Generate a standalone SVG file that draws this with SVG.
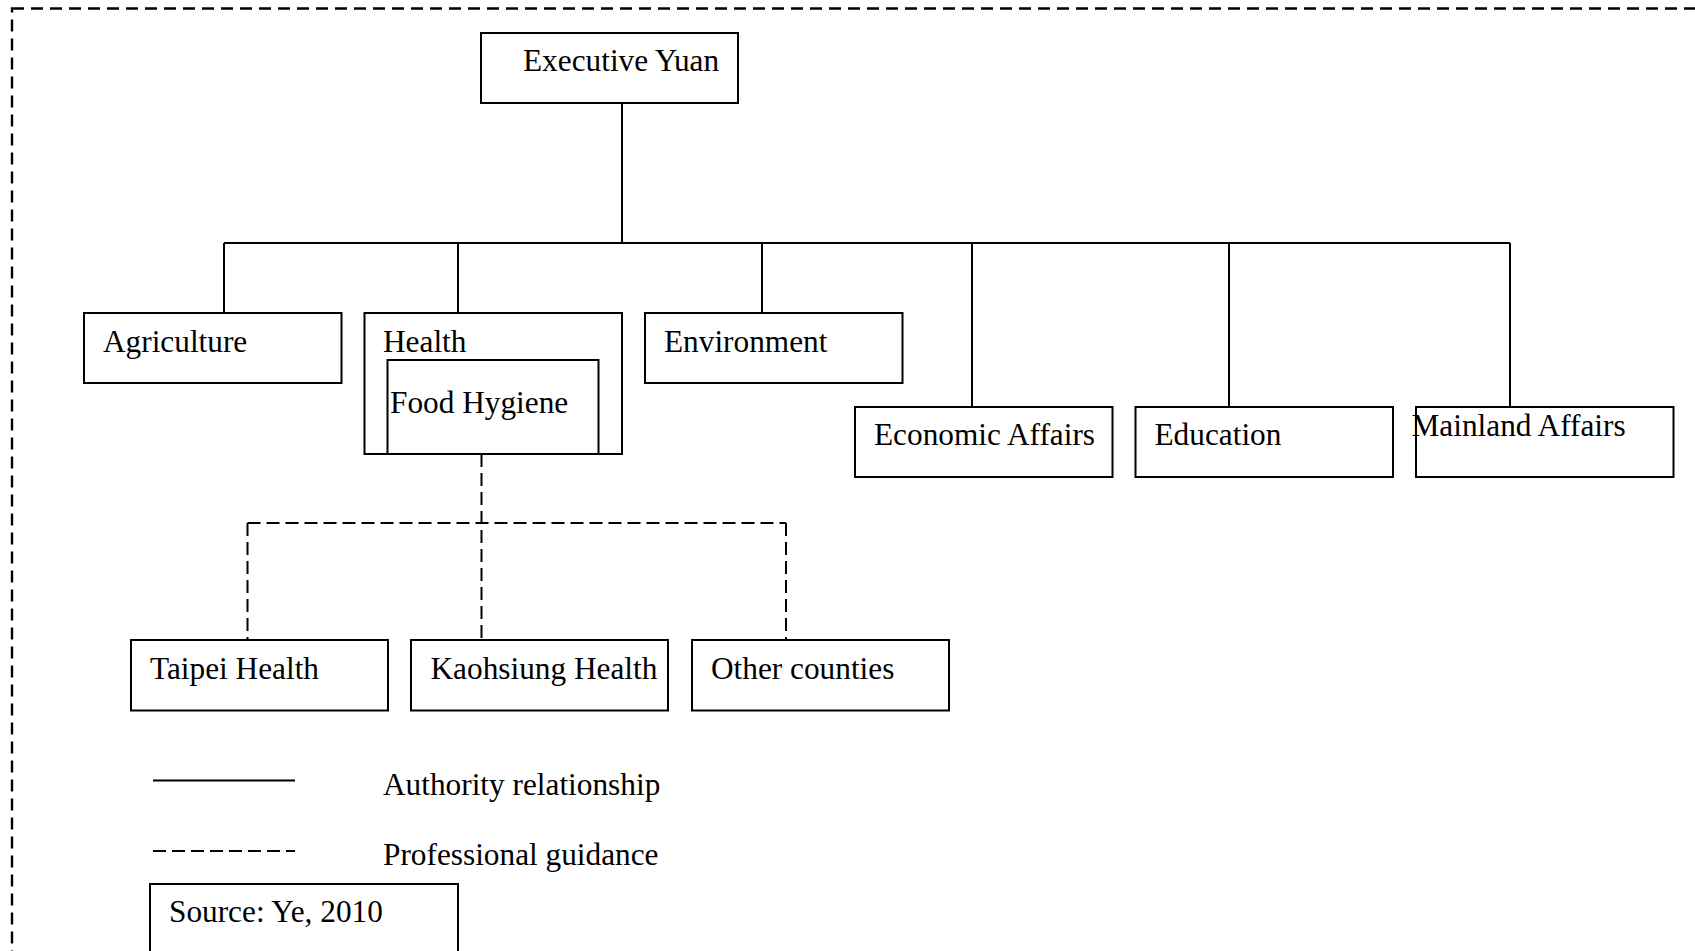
<svg xmlns="http://www.w3.org/2000/svg" width="1695" height="951" viewBox="0 0 1695 951">
<style>
.box{fill:#fff;stroke:#000;stroke-width:2}
.t{font-family:"Liberation Serif","Times New Roman",serif;font-size:31.3px;fill:#000}
.solid{fill:none;stroke:#000;stroke-width:2}
.dash{fill:none;stroke:#000;stroke-width:2;stroke-dasharray:13,6}
.frame{fill:none;stroke:#000;stroke-width:2.4;stroke-dasharray:12,7}
</style>
<rect width="1695" height="951" fill="#fff"/>
<rect class="frame" x="12" y="8.5" width="1720" height="980"/>
<g id="connectors">
<path class="solid" d="M622 103V243M224 243H1510M224 243V313M458 243V313M762 243V313M972 243V407M1229 243V407M1510 243V407"/>
<path class="dash" d="M481.5 454V640M247.5 523H786M247.5 523V640M786 523V640"/>
</g>
<g id="executive-yuan"><rect class="box" x="481" y="33" width="257" height="70"/><text class="t" x="523" y="70.5">Executive Yuan</text></g>
<g id="agriculture"><rect class="box" x="84" y="313" width="257.5" height="70"/><text class="t" x="103" y="351.5">Agriculture</text></g>
<g id="health"><rect class="box" x="364.5" y="313" width="257.5" height="141"/><text class="t" x="383" y="351.5">Health</text></g>
<g id="food-hygiene"><rect class="box" x="387.5" y="360" width="211" height="94"/><text class="t" x="390" y="412.5">Food Hygiene</text></g>
<g id="environment"><rect class="box" x="645" y="313" width="257.5" height="70"/><text class="t" x="664" y="351.5">Environment</text></g>
<g id="economic-affairs"><rect class="box" x="855" y="407" width="257.5" height="70"/><text class="t" x="874" y="444.5">Economic Affairs</text></g>
<g id="education"><rect class="box" x="1135.5" y="407" width="257.5" height="70"/><text class="t" x="1154.5" y="444.5">Education</text></g>
<g id="mainland-affairs"><rect class="box" x="1416" y="407" width="257.5" height="70"/><text class="t" x="1411.5" y="436">Mainland Affairs</text></g>
<g id="taipei-health"><rect class="box" x="131" y="640" width="257" height="70.5"/><text class="t" x="150" y="678.5">Taipei Health</text></g>
<g id="kaohsiung-health"><rect class="box" x="411" y="640" width="257" height="70.5"/><text class="t" x="430.5" y="678.5">Kaohsiung Health</text></g>
<g id="other-counties"><rect class="box" x="692" y="640" width="257" height="70.5"/><text class="t" x="711" y="678.5">Other counties</text></g>
<g id="legend">
<path class="solid" d="M153 780.5H295"/>
<path class="dash" d="M153 851H295"/>
<text class="t" x="383" y="795">Authority relationship</text>
<text class="t" x="383" y="864.5">Professional guidance</text>
</g>
<g id="source"><rect class="box" x="150" y="884" width="308" height="100"/><text class="t" x="169" y="922">Source: Ye, 2010</text></g>
</svg>
